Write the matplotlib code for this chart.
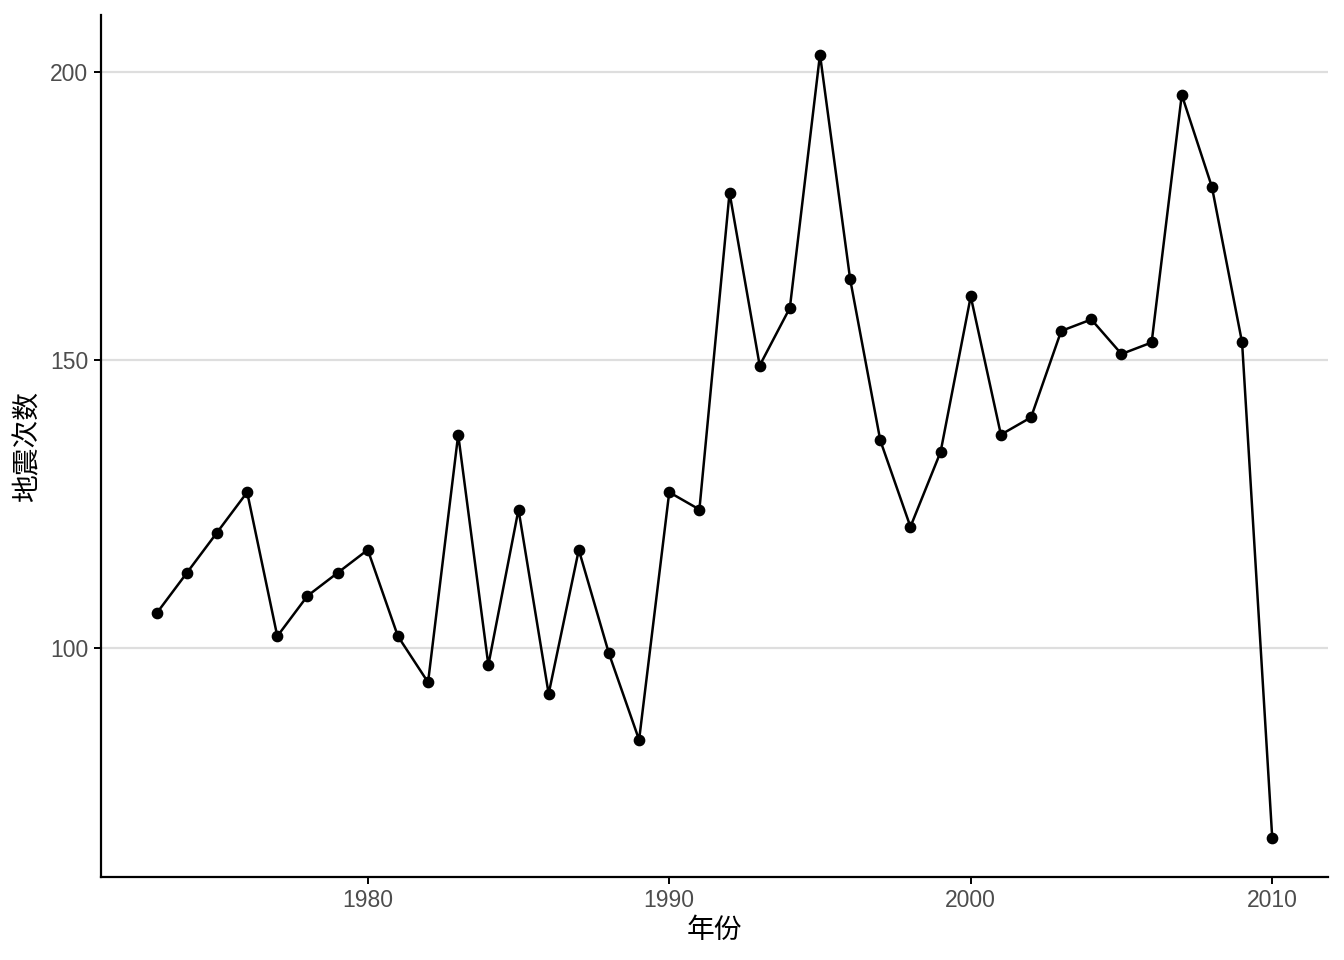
import matplotlib
matplotlib.use("Agg")
import matplotlib.pyplot as plt

plt.rcParams['font.family'] = ['Liberation Sans', 'Noto Sans CJK SC', 'DejaVu Sans']

years = list(range(1973, 2011))
counts = [106, 113, 120, 127, 102, 109, 113, 117, 102, 94,
          137, 97, 124, 92, 117, 99, 84, 127, 124, 179,
          149, 159, 203, 164, 136, 121, 134, 161, 137, 140,
          155, 157, 151, 153, 196, 180, 153, 67]
xticks = [1980, 1990, 2000, 2010]
yticks = [100, 150, 200]

fig = plt.figure(figsize=(13.44, 9.6), dpi=100)
ax = fig.add_axes([0.0751, 0.0865, 0.913, 0.8975])

ax.plot(years, counts, color='black', linewidth=1.8, zorder=3)
ax.scatter(years, counts, color='black', s=55, zorder=4)

ax.set_xlim(1971.15, 2011.85)
ax.set_ylim(60.2, 209.8)
ax.set_xticks(xticks)
ax.set_yticks(yticks)
ax.yaxis.grid(True, color='#dedede', linewidth=1.6)
ax.set_axisbelow(True)

for side in ['top', 'right']:
    ax.spines[side].set_visible(False)
for side in ['left', 'bottom']:
    ax.spines[side].set_linewidth(1.6)

ax.tick_params(axis='both', labelsize=16.5, labelcolor='#4d4d4d', length=5, width=1.4, pad=4)
ax.set_xlabel('年份', fontsize=20, labelpad=4)
ax.set_ylabel('地震次数', fontsize=20, labelpad=6)

fig.savefig('out.png', dpi=100)
